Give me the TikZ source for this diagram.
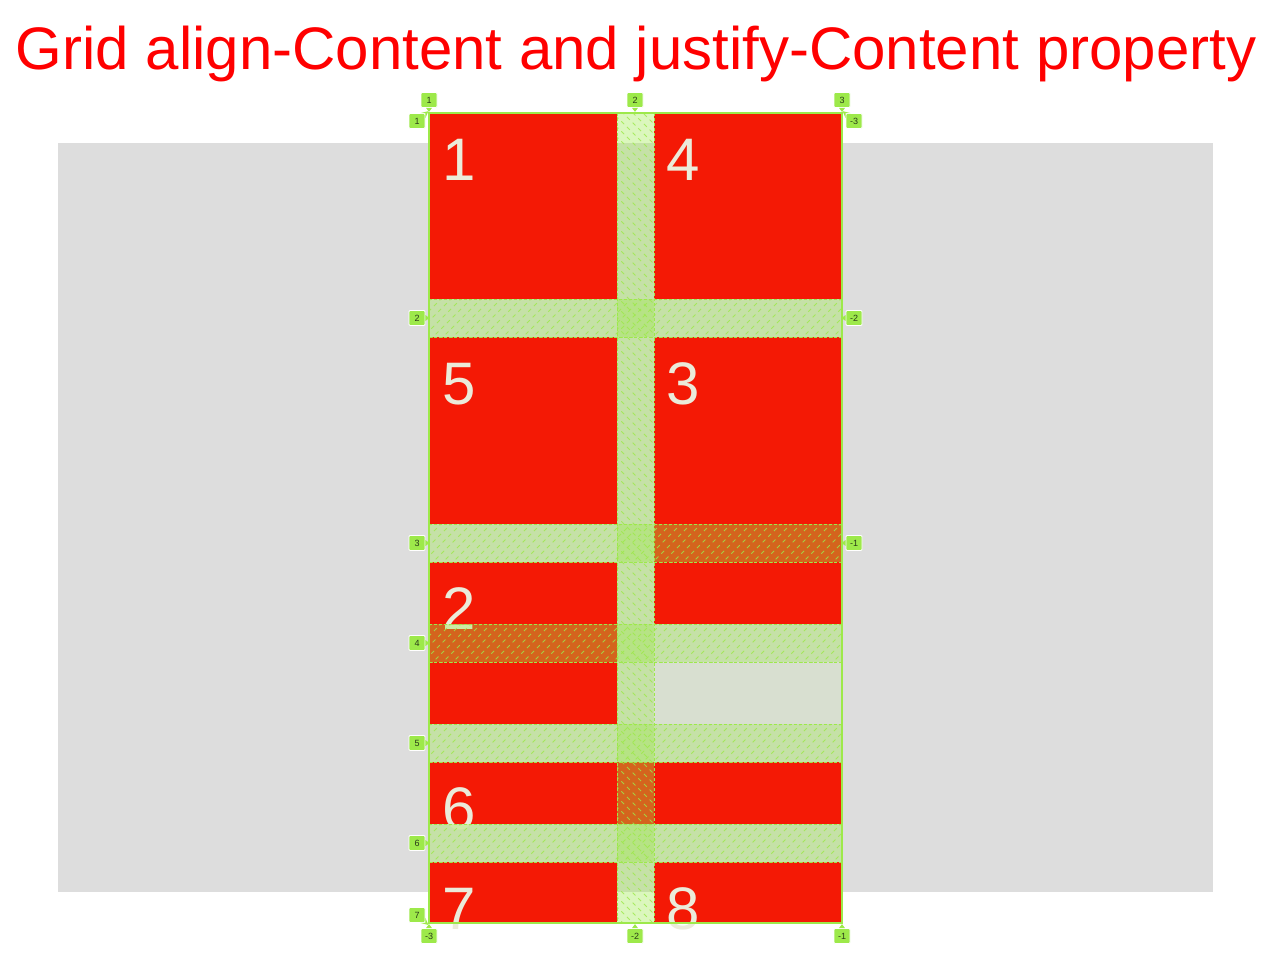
\documentclass[tikz,border=0pt]{standalone}
\usepackage{fontspec}
\setmainfont{Liberation Sans}
\definecolor{itemred}{HTML}{F41905}
\definecolor{bggray}{HTML}{DDDDDD}
\definecolor{gridgreen}{HTML}{9DE94A}
\definecolor{numcream}{HTML}{EBEBDA}
\definecolor{emptycell}{HTML}{D8DFD0}
\definecolor{labeltext}{HTML}{2A3A1A}
\definecolor{titlered}{HTML}{FF0000}
\tikzset{
  num/.style={anchor=base west, inner sep=0pt, text=numcream, font=\fontsize{60}{60}\selectfont},
  hatch/.style={draw=gridgreen, line width=0.9pt, dash pattern=on 4pt off 4pt, opacity=0.8},
  gapfill/.style={fill=gridgreen, fill opacity=0.36},
  gapedge/.style={draw=gridgreen, line width=0.9pt, dash pattern=on 3pt off 2pt},
  lbl/.style={draw=white, fill=gridgreen, line width=0.8pt, rounded corners=1pt, minimum width=16pt, minimum height=15pt, inner sep=0pt, text=labeltext, font=\fontsize{9}{9}\selectfont},
  ptr/.style={fill=gridgreen}
}
\newcommand{\rowgapov}[2]{%
  \begin{scope}
    \clip (429,#1) rectangle (842,#2);
    \fill[gapfill] (429,#1) rectangle (842,#2);
    \foreach \k in {380,390,...,850} \draw[hatch] (\k,#2+3) -- ++(48,-48);
  \end{scope}
  \draw[gapedge] (429,#1) -- (842,#1) (429,#2) -- (842,#2);
}
\begin{document}
\begin{tikzpicture}[x=1pt,y=-1pt]
\useasboundingbox (0,0) rectangle (1280,962);
\fill[white] (0,0) rectangle (1280,962);
\fill[bggray] (58,143) rectangle (1213,892);
\node[anchor=base, inner sep=0pt, text=titlered, font=\fontsize{60}{60}\selectfont] (title) at (636,69) {Grid align-Content and justify-Content property};
% items
\fill[itemred] (429,113) rectangle (617,299);
\fill[itemred] (654,113) rectangle (842,299);
\fill[itemred] (429,337) rectangle (617,524);
\fill[itemred] (654,337) rectangle (842,624);
\fill[itemred] (429,562) rectangle (617,724);
\fill[emptycell] (654,662) rectangle (842,724);
\fill[itemred] (429,762) rectangle (842,824);
\fill[itemred] (429,862) rectangle (617,923);
\fill[itemred] (654,862) rectangle (842,923);
% numbers
\node[num] (n1) at (442,180) {1};
\node[num] (n4) at (666,180) {4};
\node[num] (n5) at (442,404) {5};
\node[num] (n3) at (666,404) {3};
\node[num] (n2) at (442,629) {2};
\node[num] (n6) at (442,829) {6};
\node[num] (n7) at (442,929) {7};
\node[num] (n8) at (666,929) {8};
% row gaps
\rowgapov{299}{337}
\rowgapov{524}{562}
\rowgapov{624}{662}
\rowgapov{724}{762}
\rowgapov{824}{862}
% column gap
\begin{scope}
  \clip (617,113) rectangle (654,923);
  \fill[gapfill] (617,113) rectangle (654,923);
  \foreach \k in {60,70,...,930} \draw[hatch] (610,\k) -- ++(50,50);
\end{scope}
\draw[gapedge] (617,113) -- (617,923) (654,113) -- (654,923);
% container border
\draw[gridgreen, line width=1.2pt] (429,113) rectangle (842,923);
% top labels
\node[lbl] (t1) at (429,100) {1};
\node[lbl] (t2) at (635,100) {2};
\node[lbl] (t3) at (842,100) {3};
\foreach \n in {t1,t2,t3} \fill[ptr] (\n.south) ++(-3,0) -- ++(6,0) -- ++(-3,4) -- cycle;
% bottom labels
\node[lbl] (b1) at (429,936) {-3};
\node[lbl] (b2) at (635,936) {-2};
\node[lbl] (b3) at (842,936) {-1};
\foreach \n in {b1,b2,b3} \fill[ptr] (\n.north) ++(-3,0) -- ++(6,0) -- ++(-3,-4) -- cycle;
% left labels
\node[lbl] (l1) at (417,121) {1};
\node[lbl] (l2) at (417,318) {2};
\node[lbl] (l3) at (417,543) {3};
\node[lbl] (l4) at (417,643) {4};
\node[lbl] (l5) at (417,743) {5};
\node[lbl] (l6) at (417,843) {6};
\node[lbl] (l7) at (417,915) {7};
\foreach \n in {l2,l3,l4,l5,l6} \fill[ptr] (\n.east) ++(0,-3) -- ++(0,6) -- ++(4,-3) -- cycle;
\fill[ptr] (l1.north east) ++(-5,0) -- ++(5,0) -- ++(0,5) -- ++(3,-7) -- cycle;
\fill[ptr] (l7.south east) ++(-5,0) -- ++(5,0) -- ++(0,-5) -- ++(3,7) -- cycle;
% right labels
\node[lbl] (r1) at (854,121) {-3};
\node[lbl] (r2) at (854,318) {-2};
\node[lbl] (r3) at (854,543) {-1};
\foreach \n in {r2,r3} \fill[ptr] (\n.west) ++(0,-3) -- ++(0,6) -- ++(-4,-3) -- cycle;
\fill[ptr] (r1.north west) ++(5,0) -- ++(-5,0) -- ++(0,5) -- ++(-3,-7) -- cycle;
\end{tikzpicture}
\end{document}
